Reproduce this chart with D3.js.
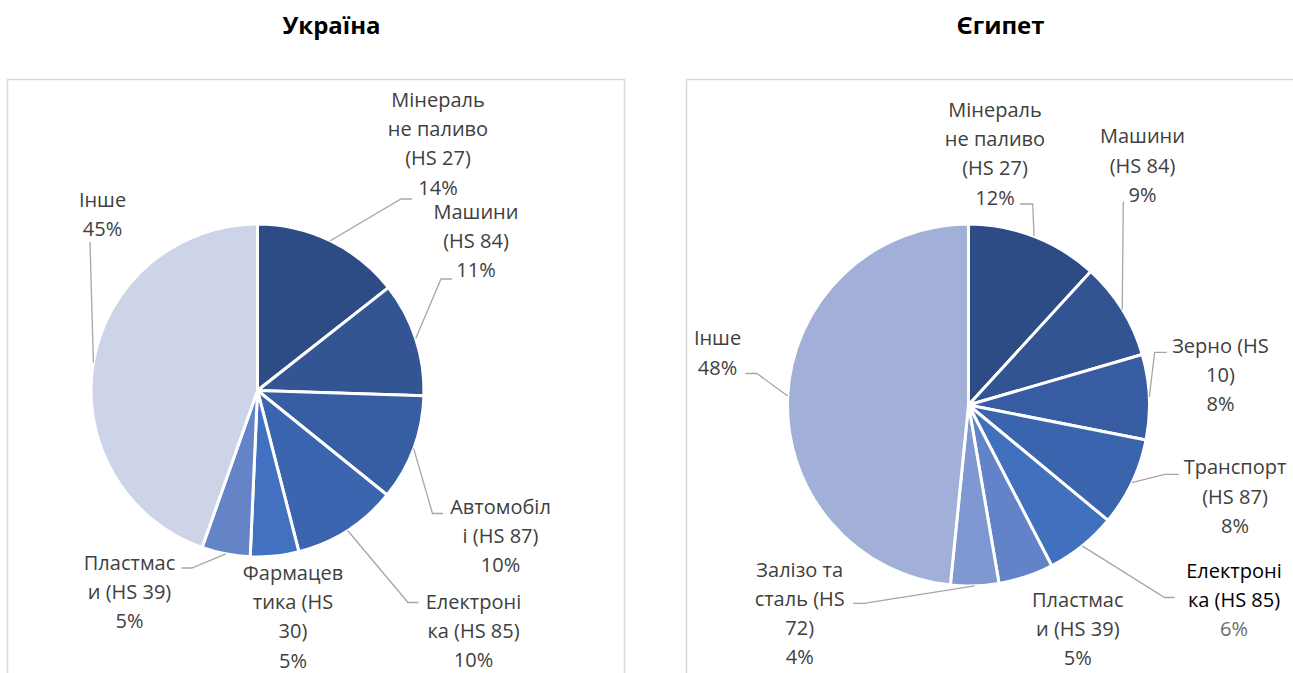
<!DOCTYPE html>
<html>
<head>
<meta charset="utf-8">
<script src="https://cdn.jsdelivr.net/npm/d3@7"></script>
<style>
  body { margin: 0; background: #fff; }
  text { font-family: 'Open Sans', sans-serif; }
</style>
</head>
<body>
<div id="vis"></div>
<script>
// Ukraine
const uaCategories = ['Мінеральне паливо (HS 27)', 'Машини (HS 84)', 'Автомобілі (HS 87)', 'Електроніка (HS 85)',
    'Фармацевтика (HS 30)', 'Пластмаси (HS 39)', 'Інше']
const uaValues = [14.4, 11.1, 10.3, 10.2, 4.7, 4.7, 44.6]
const uaLabelLines = [['Мінераль', 'не паливо', '(HS 27)'], ['Машини', '(HS 84)'], ['Автомобіл', 'і (HS 87)'],
    ['Електроні', 'ка (HS 85)'], ['Фармацев', 'тика (HS', '30)'], ['Пластмас', 'и (HS 39)'], ['Інше']]
const uaColors = ['#2d4c86', '#335594', '#375da2', '#3b65ae', '#4371c2', '#6584c8', '#cdd4e8']

// Egypt
const egCategories = ['Мінеральне паливо (HS 27)', 'Машини (HS 84)', 'Зерно (HS 10)', 'Транспорт (HS 87)',
    'Електроніка (HS 85)', 'Пластмаси (HS 39)', 'Залізо та сталь (HS 72)', 'Інше']
const egValues = [11.8, 8.7, 7.6, 7.9, 6.4, 4.9, 4.3, 48.4]
const egLabelLines = [['Мінераль', 'не паливо', '(HS 27)'], ['Машини', '(HS 84)'], ['Зерно (HS', '10)'],
    ['Транспорт', '(HS 87)'], ['Електроні', 'ка (HS 85)'], ['Пластмас', 'и (HS 39)'], ['Залізо та', 'сталь (HS', '72)'], ['Інше']]
const egColors = ['#2d4c86', '#325492', '#375ca1', '#3b64ae', '#4170be', '#6383c8', '#8098d1', '#a1afd9']

const titles = ['Україна', 'Єгипет']

// label placement relative to pie centre: text block centre/first baseline, leader start and elbow
const uaLabelLayout = [
    {dx: 180.5, dy: -283.5, start: [154.5, -191.5], elbow: [143.5, -191.5]},
    {dx: 218.5, dy: -171.5, start: [194.5, -111.5], elbow: [183.5, -111.5]},
    {dx: 243, dy: 123, start: [185.5, 123], elbow: [175, 123]},
    {dx: 216, dy: 218.5, start: [161, 212], elbow: [150.5, 212]},
    {dx: 35.5, dy: 189.5},
    {dx: -128, dy: 179.5, start: [-76, 177.5], elbow: [-65.7, 177.5]},
    {dx: -155, dy: -184, start: [-167.5, -148.5], elbow: [-167.5, -148.5]}
]
const egLabelLayout = [
    {dx: 26.5, dy: -288, start: [51.5, -201], elbow: [64.2, -201]},
    {dx: 174, dy: -261.7, start: [154.8, -203.3], elbow: [154.8, -203.3]},
    {dx: 252, dy: -52, start: [198.2, -52.6], elbow: [186.1, -52.6]},
    {dx: 266.5, dy: 69.4, start: [210.3, 69.4], elbow: [196.1, 69.4]},
    {dx: 265.5, dy: 173, start: [206.2, 192.5], elbow: [196.1, 192.5], nameColor: '#000', pctColor: '#6b6b6b'},
    {dx: 109.3, dy: 202},
    {dx: -168.8, dy: 171.5, start: [-115.5, 198.4], elbow: [-104.6, 198.4]},
    {dx: -251, dy: -59.6, start: [-222.9, -31.5], elbow: [-211.6, -31.5]}
]

const width = 1293, height = 673
const lineHeight = 29.2

const svg = d3.select('#vis').append('svg')
    .attr('width', width)
    .attr('height', height)

const charts = [
    {title: titles[0], categories: uaCategories, values: uaValues, lines: uaLabelLines, colors: uaColors,
        layout: uaLabelLayout, box: [7.5, 79.5, 617], titleX: 331.5, cx: 257.5, cy: 390.5, r: 166.5},
    {title: titles[1], categories: egCategories, values: egValues, lines: egLabelLines, colors: egColors,
        layout: egLabelLayout, box: [686.5, 79.5, 700], titleX: 1000.5, cx: 968.5, cy: 405, r: 181}
]

charts.forEach(drawPie)

function drawPie(c){
    const data = c.categories.map((name, i) => ({name: name, value: c.values[i], lines: c.lines[i], layout: c.layout[i]}))
    const color = d3.scaleOrdinal(c.categories, c.colors)

    svg.append('rect')
        .attr('x', c.box[0]).attr('y', c.box[1])
        .attr('width', c.box[2]).attr('height', 700)
        .attr('fill', 'none')
        .attr('stroke', '#d9d9d9')
        .attr('stroke-width', 1.5)

    svg.append('text')
        .attr('x', c.titleX).attr('y', 34)
        .attr('text-anchor', 'middle')
        .attr('font-size', 24)
        .attr('font-weight', 700)
        .attr('fill', '#000')
        .text(c.title)

    const pie = d3.pie().sort(null).value(d => d.value)
    const arcs = pie(data)
    const arc = d3.arc().innerRadius(0).outerRadius(c.r)
    const edge = d3.arc().innerRadius(c.r).outerRadius(c.r)

    const g = svg.append('g').attr('transform', `translate(${c.cx}, ${c.cy})`)

    g.selectAll('path.slice')
        .data(arcs)
        .enter()
        .append('path')
            .attr('class', 'slice')
            .attr('d', arc)
            .attr('fill', d => color(d.data.name))
            .attr('stroke', '#fff')
            .attr('stroke-width', 3)
            .attr('stroke-linejoin', 'round')

    // leader lines from label to the slice's outer edge
    g.selectAll('path.leader')
        .data(arcs.filter(d => d.data.layout.start))
        .enter()
        .append('path')
            .attr('class', 'leader')
            .attr('d', d => d3.line()([d.data.layout.start, d.data.layout.elbow, edge.centroid(d)]))
            .attr('fill', 'none')
            .attr('stroke', '#a6a6a6')
            .attr('stroke-width', 1.3)

    const labels = g.selectAll('text.label')
        .data(arcs)
        .enter()
        .append('text')
            .attr('class', 'label')
            .attr('text-anchor', 'middle')
            .attr('font-size', 20)
            .attr('x', d => d.data.layout.dx)
            .attr('y', d => d.data.layout.dy)

    labels.each(function(d){
        const t = d3.select(this)
        const lay = d.data.layout
        d.data.lines.forEach((line, i) => {
            t.append('tspan')
                .attr('x', lay.dx)
                .attr('dy', i === 0 ? 0 : lineHeight)
                .attr('fill', lay.nameColor || '#404040')
                .text(line)
        })
        t.append('tspan')
            .attr('x', lay.dx)
            .attr('dy', lineHeight)
            .attr('fill', lay.pctColor || '#404040')
            .text(Math.round(d.data.value) + '%')
    })
}
</script>
</body>
</html>
